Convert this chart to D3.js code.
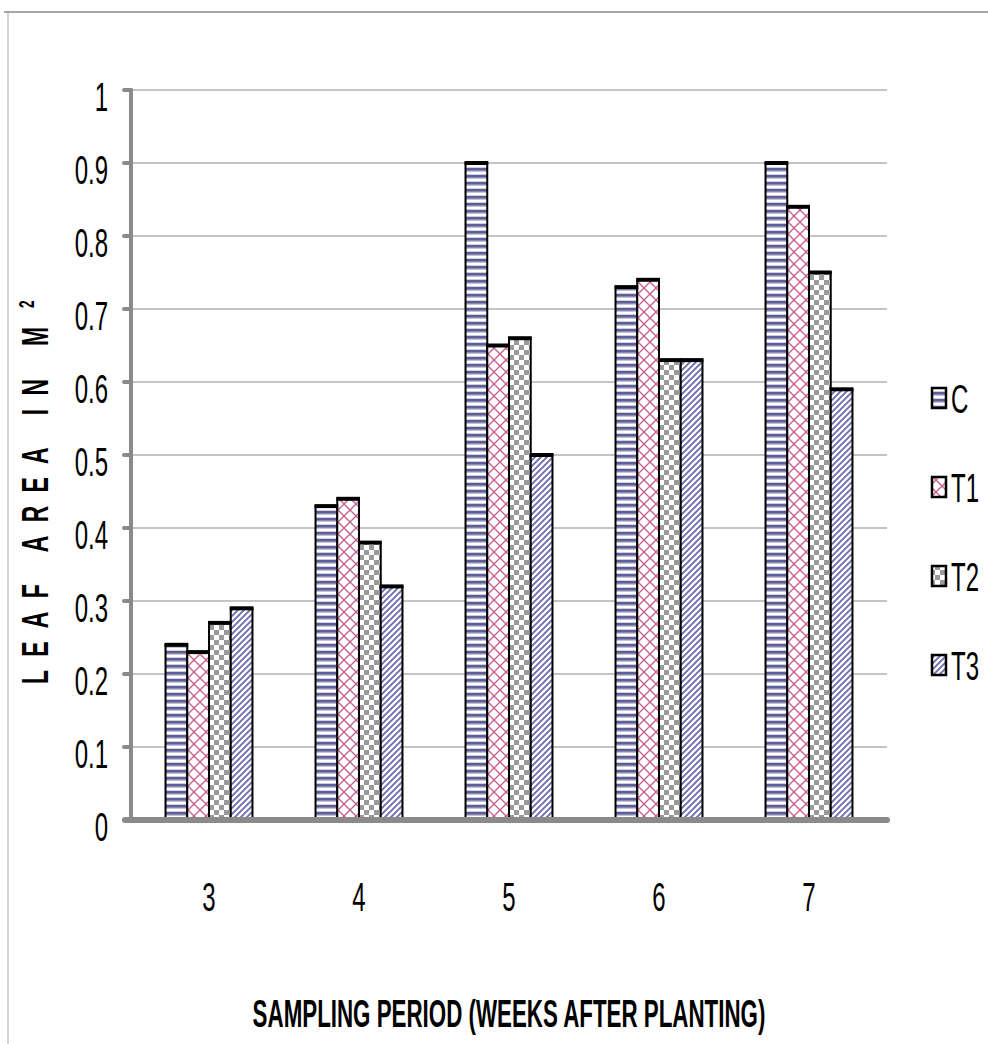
<!DOCTYPE html>
<html>
<head>
<meta charset="utf-8">
<script src="https://cdn.jsdelivr.net/npm/d3@7"></script>
<style>
  body { margin: 0; background: #fff; }
  svg { display: block; }
</style>
</head>
<body>
<svg id="chart" width="988" height="1044"></svg>
<script>
// Leaf area (m²) by sampling week for the control and three treatments
const categories = ["3", "4", "5", "6", "7"];
const seriesNames = ["C", "T1", "T2", "T3"];
const valuesC  = [0.24, 0.43, 0.90, 0.73, 0.90];
const valuesT1 = [0.23, 0.44, 0.65, 0.74, 0.84];
const valuesT2 = [0.27, 0.38, 0.66, 0.63, 0.75];
const valuesT3 = [0.29, 0.32, 0.50, 0.63, 0.59];
const yTicks = [0, 0.1, 0.2, 0.3, 0.4, 0.5, 0.6, 0.7, 0.8, 0.9, 1];
const yTickLabels = ["0", "0.1", "0.2", "0.3", "0.4", "0.5", "0.6", "0.7", "0.8", "0.9", "1"];
const xTitle = "SAMPLING PERIOD (WEEKS AFTER PLANTING)";
const yTitle = "LEAF AREA IN M";
const yTitleSup = "2";

const seriesValues = [valuesC, valuesT1, valuesT2, valuesT3];
const rows = categories.map((c, i) => ({
  category: c,
  values: seriesNames.map((s, j) => ({ series: s, value: seriesValues[j][i] }))
}));

const svg = d3.select("#chart");
const FONT = "'Liberation Sans', Arial, sans-serif";
const AXIS_GREY = "#8a8a8a";

// Fill patterns
const defs = svg.append("defs");
function pattern(id, w, h) {
  const p = defs.append("pattern").attr("id", id)
    .attr("patternUnits", "userSpaceOnUse").attr("width", w).attr("height", h);
  p.append("rect").attr("width", w).attr("height", h).attr("fill", "#fff");
  return p;
}
{
  const p = pattern("pat-C", 8, 7);
  p.append("rect").attr("y", 0).attr("width", 8).attr("height", 2.8).attr("fill", "#5e5e97");
  p.append("rect").attr("y", 2.8).attr("width", 8).attr("height", 1).attr("fill", "#b3b3cf");
  p.append("rect").attr("y", 6).attr("width", 8).attr("height", 1).attr("fill", "#cfcfe1");
}
{
  const p = pattern("pat-T1", 12, 12);
  p.append("path").attr("d", "M0,0L12,12M12,0L0,12")
    .attr("stroke", "#c35b8b").attr("stroke-width", 1.3).attr("fill", "none");
}
{
  const p = pattern("pat-T2", 10, 10);
  p.append("rect").attr("x", 0).attr("y", 0).attr("width", 5).attr("height", 5).attr("fill", "#9a9a9a");
  p.append("rect").attr("x", 5).attr("y", 5).attr("width", 5).attr("height", 5).attr("fill", "#9a9a9a");
}
{
  const p = pattern("pat-T3", 6, 6);
  p.append("path").attr("d", "M-1,1L1,-1M0,6L6,0M5,7L7,5")
    .attr("stroke", "#6d6dab").attr("stroke-width", 1.9).attr("fill", "none");
}
const fillFor = s => `url(#pat-${s})`;

// Outer frame
svg.append("line").attr("x1", 4).attr("x2", 988).attr("y1", 12).attr("y2", 12)
  .attr("stroke", "#a6a6a6").attr("stroke-width", 2);
svg.append("line").attr("x1", 8).attr("x2", 8).attr("y1", 12).attr("y2", 1044)
  .attr("stroke", "#a6a6a6").attr("stroke-width", 1);

// Scales
const plotLeft = 134, plotRight = 884, plotTop = 90, plotBottom = 820;
const y = d3.scaleLinear().domain([0, 1]).range([plotBottom, plotTop]);
const x0 = d3.scaleBand().domain(categories).range([plotLeft, plotRight]).padding(0);
const x1 = d3.scaleBand().domain(seriesNames).range([0, x0.bandwidth()])
  .paddingInner(0).paddingOuter(1.45);

// Gridlines
svg.append("g").selectAll("line").data(yTicks.slice(1)).join("line")
  .attr("x1", 131).attr("x2", 887)
  .attr("y1", d => y(d)).attr("y2", d => y(d))
  .attr("stroke", AXIS_GREY).attr("stroke-width", 1.2);

// Text helper: horizontally condensed text
function condensedText(parent, x, yy, str, opts) {
  const g = parent.append("g")
    .attr("transform", `translate(${x},${yy}) rotate(${opts.rotate || 0}) scale(${opts.sx || 1},1)`);
  return g.append("text")
    .attr("font-family", FONT)
    .attr("font-size", opts.size)
    .attr("font-weight", opts.weight || "normal")
    .attr("text-anchor", opts.anchor || "start")
    .attr("fill", "#000")
    .text(str);
}

// Bars
const groups = svg.append("g").selectAll("g").data(rows).join("g")
  .attr("transform", d => `translate(${x0(d.category)},0)`);
groups.selectAll("rect").data(d => d.values).join("rect")
  .attr("x", d => x1(d.series))
  .attr("y", d => y(d.value))
  .attr("width", x1.bandwidth())
  .attr("height", d => y(0) - y(d.value))
  .attr("fill", d => fillFor(d.series))
  .attr("stroke", "#000").attr("stroke-width", 2);
groups.selectAll("line.top").data(d => d.values).join("line")
  .attr("class", "top")
  .attr("x1", d => x1(d.series) - 1).attr("x2", d => x1(d.series) + x1.bandwidth() + 1)
  .attr("y1", d => y(d.value)).attr("y2", d => y(d.value))
  .attr("stroke", "#000").attr("stroke-width", 4);

// Y axis
const yAxis = svg.append("g");
yAxis.append("line").attr("x1", 131).attr("x2", 131)
  .attr("y1", y(1)).attr("y2", y(0))
  .attr("stroke", AXIS_GREY).attr("stroke-width", 4).attr("stroke-linecap", "round");
yAxis.selectAll("line.tick").data(yTicks).join("line").attr("class", "tick")
  .attr("x1", 124).attr("x2", 131)
  .attr("y1", d => y(d)).attr("y2", d => y(d))
  .attr("stroke", AXIS_GREY).attr("stroke-width", 4).attr("stroke-linecap", "round");
yTicks.forEach((v, i) => {
  condensedText(yAxis, 108, y(v) + 21, yTickLabels[i], { size: 40, sx: 0.6, anchor: "end" });
});

// X axis
const xAxis = svg.append("g");
xAxis.append("line").attr("x1", 125).attr("x2", 887)
  .attr("y1", y(0)).attr("y2", y(0))
  .attr("stroke", AXIS_GREY).attr("stroke-width", 6).attr("stroke-linecap", "round");
categories.forEach(c => {
  condensedText(xAxis, x0(c) + x0.bandwidth() / 2, 911, c, { size: 40, sx: 0.6, anchor: "middle" });
});

// X axis title, condensed to a fixed width
{
  const t = condensedText(svg, 509, 1027, xTitle, { size: 38, weight: "bold", anchor: "middle" });
  const natural = t.node().getComputedTextLength();
  d3.select(t.node().parentNode)
    .attr("transform", `translate(509,1027) scale(${513 / natural},1)`);
}

// Y axis title, letter-spaced, with superscript
{
  const sx = 0.62;
  const g = svg.append("g").attr("transform", `translate(48,684) rotate(-90) scale(${sx},1)`);
  g.append("text")
    .attr("x", 0).attr("y", 0)
    .attr("font-family", FONT).attr("font-size", 37).attr("font-weight", "bold")
    .attr("textLength", 357 / sx).attr("lengthAdjust", "spacing")
    .text(yTitle);
  g.append("text")
    .attr("x", 376 / sx).attr("y", -14)
    .attr("font-family", FONT).attr("font-size", 22).attr("font-weight", "bold")
    .text(yTitleSup);
}

// Legend
const legendTop = 398, legendStep = 89;
const legend = svg.append("g");
seriesNames.forEach((s, i) => {
  const cy = legendTop + i * legendStep;
  legend.append("rect")
    .attr("x", 932).attr("y", cy - 10).attr("width", 14).attr("height", 20)
    .attr("fill", fillFor(s)).attr("stroke", "#000").attr("stroke-width", 2.5);
  condensedText(legend, 951, cy + 15, s, { size: 40, sx: 0.6 });
});
</script>
</body>
</html>
